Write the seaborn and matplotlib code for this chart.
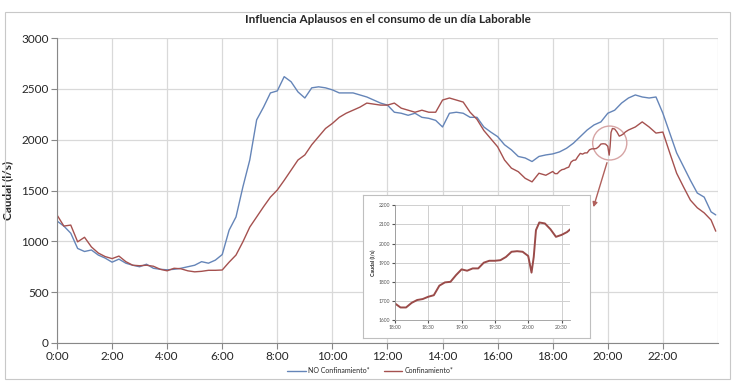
import numpy as np
import pandas as pd
import matplotlib
matplotlib.use('Agg')
import matplotlib.pyplot as plt
from matplotlib.patches import Ellipse, Rectangle
import seaborn as sns

# Hours of day (15 min steps) plus last reading
hours = list(np.arange(96) * 0.25) + [23.92]

no_confinamiento = [
    1200, 1150, 1080, 930, 900, 915, 865, 835, 795, 825, 785, 765,
    750, 775, 735, 725, 720, 725, 735, 750, 765, 800, 785, 815,
    870, 1110, 1240, 1535, 1800, 2195, 2320, 2460, 2480, 2620, 2570, 2470,
    2410, 2510, 2520, 2510, 2490, 2460, 2460, 2460, 2440, 2420, 2390, 2360,
    2340, 2270, 2260, 2240, 2260, 2220, 2210, 2190, 2125, 2260, 2270, 2260,
    2220, 2220, 2125, 2075, 2030, 1950, 1900, 1835, 1820, 1785, 1835, 1850,
    1860, 1880, 1915, 1965, 2030, 2095, 2145, 2175, 2260, 2290, 2360, 2410,
    2440, 2420, 2410, 2420, 2260, 2065, 1870, 1735, 1600, 1475, 1435, 1290,
    1260,
]

confinamiento = [
    1260, 1150, 1160, 995, 1040, 945, 885, 850, 830, 855, 800, 765,
    760, 765, 755, 725, 710, 735, 730, 710, 700, 705, 715, 715,
    718, 795, 865, 995, 1140, 1240, 1340, 1435, 1505, 1600, 1700, 1800,
    1850, 1950, 2030, 2110, 2160, 2220, 2260, 2290, 2320, 2360, 2350, 2340,
    2340, 2360, 2310, 2290, 2270, 2290, 2270, 2270, 2390, 2410, 2390, 2370,
    2270, 2200, 2090, 2010, 1930, 1800, 1720, 1685, 1620, 1585, 1670, 1650,
    1690, 1700, 1750, 1800, 1850, 1880, 1900, 1950, 1960, 2095, 2065, 2095,
    2125, 2175, 2125, 2065, 2075, 1870, 1670, 1535, 1405, 1330, 1280, 1210,
    1100,
]

# Detail 18:00 - 20:38 (minutes after 18:00)
zoom_minutes = [0, 5, 10, 15, 20, 25, 30, 35, 40, 45, 50, 55, 60, 65, 70, 75,
                80, 85, 90, 95, 100, 105, 110, 115, 120, 123, 125, 127, 130,
                135, 140, 145, 150, 155, 158]
zoom_caudal = [1687, 1666, 1666, 1690, 1705, 1710, 1722, 1730, 1780, 1797, 1800,
               1835, 1865, 1858, 1870, 1870, 1900, 1910, 1910, 1913, 1930, 1957,
               1960, 1957, 1935, 1848, 1930, 2070, 2110, 2105, 2075, 2035, 2045,
               2060, 2075]

x_labels = ["0:00", "2:00", "4:00", "6:00", "8:00", "10:00", "12:00",
            "14:00", "16:00", "18:00", "20:00", "22:00"]
zoom_labels = ["18:00", "18:30", "19:00", "19:30", "20:00", "20:30"]

BLUE = "#6585b8"
RED = "#a5514f"
GRID = "#d9d9d9"

sns.set_style("white")
plt.rcParams['font.family'] = ['Lato', 'DejaVu Sans']

# red series: detail readings replace the 15 min ones in the detail window
zoom_hours = 18 + np.array(zoom_minutes) / 60.0
h = np.array(hours)
keep = (h < 18) | (h > zoom_hours[-1])
red_df = pd.DataFrame({
    "hora": np.concatenate([h[keep], zoom_hours]),
    "caudal": np.concatenate([np.array(confinamiento)[keep], zoom_caudal]),
}).sort_values("hora")
blue_df = pd.DataFrame({"hora": hours, "caudal": no_confinamiento})

fig = plt.figure(figsize=(7.41, 3.88), dpi=100)
fig.patches.append(Rectangle((0.007, 0.023), 0.978, 0.946, transform=fig.transFigure,
                             fill=False, edgecolor="#c8c8c8", linewidth=0.8))

ax = fig.add_axes([0.0769, 0.116, 0.892, 0.786])
sns.lineplot(data=blue_df, x="hora", y="caudal", ax=ax, color=BLUE, linewidth=1.0,
             label="NO Confinamiento*", legend=False)
sns.lineplot(data=red_df, x="hora", y="caudal", ax=ax, color=RED, linewidth=1.0,
             label="Confinamiento*", legend=False)
ax.set_xlim(0, 24)
ax.set_ylim(0, 3000)
ax.set_xticks(np.arange(0, 24, 2))
ax.set_xticklabels(x_labels)
ax.set_yticks(np.arange(0, 3001, 500))
ax.set_xticks([24], minor=True)
ax.grid(True, which="both", color=GRID, linewidth=0.9)
ax.tick_params(axis="both", labelsize=8.5, length=4, color="#888888", pad=2,
               direction="out", bottom=True, left=True)
ax.tick_params(axis="x", which="minor", length=0)
for side in ["top", "right"]:
    ax.spines[side].set_visible(False)
for side in ["left", "bottom"]:
    ax.spines[side].set_color("#888888")
    ax.spines[side].set_linewidth(0.8)
ax.set_xlabel("")
ax.set_ylabel("Caudal (l/s)", fontsize=8.5, fontweight="bold", labelpad=6)
ax.set_title("Influencia Aplausos en el consumo de un día Laborable",
             fontsize=8.5, fontweight="bold", pad=11)

# highlight of the applause dip
ax.add_patch(Ellipse((20.07, 1967), 1.24, 334, fill=False, edgecolor="#d6a4a4",
                     linewidth=1.0))
ax.annotate("", xy=(19.45, 1310), xytext=(20.0, 1800),
            arrowprops=dict(arrowstyle="-|>", color="#b0605c", lw=1.0,
                            mutation_scale=7))

fig.legend(loc="lower center", bbox_to_anchor=(0.5, 0.02), ncol=2, frameon=False,
           fontsize=5, handlelength=2.6, columnspacing=2.0, handletextpad=0.4)

# detail box
box = fig.add_axes([0.49, 0.129, 0.306, 0.369])
box.set_xticks([])
box.set_yticks([])
box.set_facecolor("white")
for s in box.spines.values():
    s.set_color("#bfbfbf")
    s.set_linewidth(0.8)

ins = fig.add_axes([0.533, 0.175, 0.236, 0.296])
zoom_df = pd.DataFrame({"hora": zoom_hours, "caudal": zoom_caudal})
sns.lineplot(data=zoom_df, x="hora", y="caudal", ax=ins, color="#9a4b49", linewidth=1.4)
ins.set_xlim(18, 20.625)
ins.set_ylim(1600, 2200)
ins.set_xticks(18 + np.arange(6) * 0.5)
ins.set_xticklabels(zoom_labels)
ins.set_yticks(np.arange(1600, 2201, 100))
ins.grid(True, color="#cfcfcf", linewidth=0.7)
ins.tick_params(labelsize=3.6, length=2, pad=1.5, colors="#555555",
                bottom=True, left=True)
for side in ["top", "right"]:
    ins.spines[side].set_visible(False)
for side in ["left", "bottom"]:
    ins.spines[side].set_color("#999999")
    ins.spines[side].set_linewidth(0.6)
ins.set_xlabel("")
ins.set_ylabel("Caudal (l/s)", fontsize=3.8, fontweight="bold", labelpad=2)

fig.savefig("out.png", dpi=100)
